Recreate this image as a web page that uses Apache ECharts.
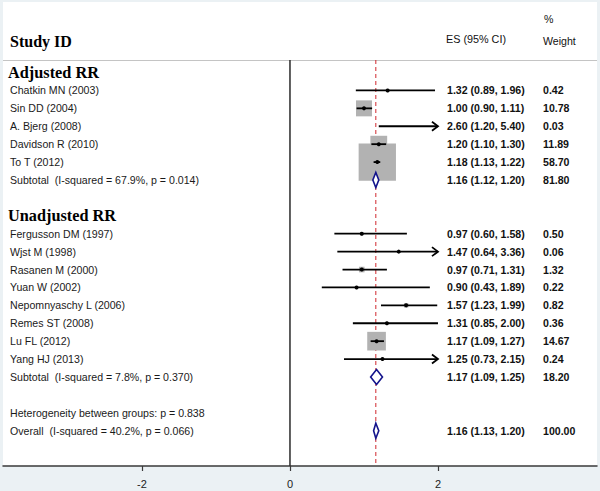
<!DOCTYPE html>
<html>
<head>
<meta charset="utf-8">
<title>Forest plot</title>
<script src="https://cdn.jsdelivr.net/npm/echarts@6/dist/echarts.min.js"></script>
<style>
  html, body { margin: 0; padding: 0; background: #ebf1f4; }
  #main { width: 600px; height: 491px; }
</style>
</head>
<body>
<div id="main"></div>
<script>
// single studies
var studyNames = ['Chatkin MN (2003)', 'Sin DD (2004)', 'A. Bjerg (2008)', 'Davidson R (2010)', 'To T (2012)',
  'Fergusson DM (1997)', 'Wjst M (1998)', 'Rasanen M (2000)', 'Yuan W (2002)', 'Nepomnyaschy L (2006)',
  'Remes ST (2008)', 'Lu FL (2012)', 'Yang HJ (2013)'];
var studyRows = [1, 2, 3, 4, 5, 9, 10, 11, 12, 13, 14, 15, 16];
var studyES = [1.32, 1.00, 2.60, 1.20, 1.18, 0.97, 1.47, 0.97, 0.90, 1.57, 1.31, 1.17, 1.25];
var studyLo = [0.89, 0.90, 1.20, 1.10, 1.13, 0.60, 0.64, 0.71, 0.43, 1.23, 0.85, 1.09, 0.73];
var studyHi = [1.96, 1.11, 5.40, 1.30, 1.22, 1.58, 3.36, 1.31, 1.89, 1.99, 2.00, 1.27, 2.15];
var studyWeight = ['0.42', '10.78', '0.03', '11.89', '58.70', '0.50', '0.06', '1.32', '0.22', '0.82', '0.36', '14.67', '0.24'];

// subtotals and overall
var poolNames = ['Subtotal  (I-squared = 67.9%, p = 0.014)', 'Subtotal  (I-squared = 7.8%, p = 0.370)',
  'Overall  (I-squared = 40.2%, p = 0.066)'];
var poolRows = [6, 17, 20];
var poolES = [1.16, 1.17, 1.16];
var poolLo = [1.12, 1.09, 1.13];
var poolHi = [1.20, 1.25, 1.20];
var poolWeight = ['81.80', '18.20', '100.00'];

// group headings
var groupNames = ['Adjusted RR', 'Unadjusted RR'];
var groupRows = [0, 8];
var noteText = 'Heterogeneity between groups: p = 0.838';
var noteRow = 19;

var xTicks = [-2, 0, 2];
var overallES = 1.16;
var clipHi = 2;

var fmt = function (v) { return v.toFixed(2); };

// data for the marks
var studyData = studyRows.map(function (r, i) {
  return [r, studyES[i], studyLo[i], studyHi[i], parseFloat(studyWeight[i])];
});
var poolData = poolRows.map(function (r, i) {
  return [r, poolES[i], poolLo[i], poolHi[i]];
});

// text table rows: [row, name, es text, weight, kind]
var textRows = [];
groupRows.forEach(function (r, i) { textRows.push([r, groupNames[i], '', '', 'group']); });
studyRows.forEach(function (r, i) {
  textRows.push([r, studyNames[i], fmt(studyES[i]) + ' (' + fmt(studyLo[i]) + ', ' + fmt(studyHi[i]) + ')', studyWeight[i], 'row']);
});
poolRows.forEach(function (r, i) {
  textRows.push([r, poolNames[i], fmt(poolES[i]) + ' (' + fmt(poolLo[i]) + ', ' + fmt(poolHi[i]) + ')', poolWeight[i], 'row']);
});
textRows.push([noteRow, noteText, '', '', 'row']);

var chart = echarts.init(document.getElementById('main'), null, { renderer: 'svg' });

var yMin = -0.7, yMax = 21.97;

// gray weight boxes (drawn first so every CI line sits on top)
function renderBox(params, api) {
  var row = api.value(0), es = api.value(1), w = api.value(4);
  if (es > clipHi) return null;
  var pEs = api.coord([es, row]);
  var side = 4.87 * Math.sqrt(w);
  return { type: 'rect', shape: { x: pEs[0] - side / 2, y: pEs[1] - side / 2, width: side, height: side },
    style: { fill: '#b2b2b2' } };
}

// CI line, arrow and point estimate
function renderStudy(params, api) {
  var row = api.value(0), es = api.value(1), lo = api.value(2), hi = api.value(3);
  var hiC = Math.min(hi, clipHi);
  var pLo = api.coord([lo, row]);
  var pHi = api.coord([hiC, row]);
  var pEs = api.coord([es, row]);
  var kids = [];
  kids.push({ type: 'line', shape: { x1: pLo[0], y1: pLo[1], x2: pHi[0], y2: pHi[1] },
    style: { stroke: '#000', lineWidth: 1.8 } });
  if (hi > clipHi) {
    kids.push({ type: 'polyline', shape: { points: [[pHi[0] - 6, pHi[1] - 4.5], [pHi[0], pHi[1]], [pHi[0] - 6, pHi[1] + 4.5]] },
      style: { stroke: '#000', lineWidth: 1.8, fill: null } });
  }
  if (es <= clipHi) {
    kids.push({ type: 'circle', shape: { cx: pEs[0], cy: pEs[1], r: 2 }, style: { fill: '#000' } });
  }
  return { type: 'group', children: kids };
}

function renderPool(params, api) {
  var row = api.value(0);
  var a = api.coord([api.value(2), row]);
  var m = api.coord([api.value(1), row]);
  var b = api.coord([api.value(3), row]);
  var h = 7.5;
  return {
    type: 'polygon',
    shape: { points: [[a[0], a[1]], [m[0], m[1] - h], [b[0], b[1]], [m[0], m[1] + h]] },
    style: { fill: '#fff', stroke: '#14148c', lineWidth: 1.6 }
  };
}

function renderRef(params, api) {
  var x = api.value(0);
  var top = api.coord([x, yMin]);
  var bot = api.coord([x, yMax]);
  var dashed = params.dataIndex === 1;
  return {
    type: 'line',
    shape: { x1: top[0], y1: top[1], x2: bot[0], y2: bot[1] },
    style: dashed ? { stroke: '#d0282e', lineWidth: 1, lineDash: [4, 3] } : { stroke: '#2a2a2a', lineWidth: 1.5 }
  };
}

function renderText(params, api) {
  var item = textRows[params.dataIndex];
  var p = api.coord([0, item[0]]);
  var y = p[1];
  if (item[4] === 'group') {
    return { type: 'text', x: 8, y: y, style: { text: item[1], fill: '#000', font: 'bold 16.3px "Liberation Serif", serif',
      verticalAlign: 'middle' } };
  }
  return { type: 'group', children: [
    { type: 'text', x: 10, y: y, style: { text: item[1], fill: '#1a1a1a', font: '10.6px "Liberation Sans", Arial, sans-serif', verticalAlign: 'middle' } },
    { type: 'text', x: 447, y: y, style: { text: item[2], fill: '#111', font: 'bold 10.6px "Liberation Sans", Arial, sans-serif', verticalAlign: 'middle' } },
    { type: 'text', x: 543, y: y, style: { text: item[3], fill: '#111', font: 'bold 10.6px "Liberation Sans", Arial, sans-serif', verticalAlign: 'middle' } }
  ] };
}

var option = {
  backgroundColor: '#ebf1f4',
  animation: false,
  grid: { left: 3, right: 3, top: 60, bottom: 25 },
  xAxis: {
    type: 'value',
    position: 'bottom',
    min: -3.878,
    max: 4.149,
    axisLine: { show: true, onZero: false, lineStyle: { color: '#3a3a3a', width: 1.5 } },
    axisTick: { show: true, customValues: xTicks, length: 5, lineStyle: { color: '#3a3a3a', width: 1.2 } },
    axisLabel: { customValues: xTicks, color: '#222', fontSize: 11, margin: 12,
      fontFamily: '"Liberation Sans", Arial, sans-serif' },
    splitLine: { show: false }
  },
  yAxis: {
    type: 'value',
    inverse: true,
    min: yMin,
    max: yMax,
    show: false
  },
  graphic: [
    { type: 'rect', z: -10, shape: { x: 3, y: 2, width: 594, height: 464 }, style: { fill: '#fff' } },
    { type: 'line', z: 1, shape: { x1: 3, y1: 60.5, x2: 597, y2: 60.5 }, style: { stroke: '#c4c4c4', lineWidth: 1 } },
    { type: 'text', x: 10, y: 41, style: { text: 'Study ID', fill: '#000', font: 'bold 16px "Liberation Serif", serif', verticalAlign: 'middle' } },
    { type: 'text', x: 446, y: 39, style: { text: 'ES (95% CI)', fill: '#111', font: '10.8px "Liberation Sans", Arial, sans-serif', verticalAlign: 'middle' } },
    { type: 'text', x: 544, y: 19, style: { text: '%', fill: '#111', font: '10.6px "Liberation Sans", Arial, sans-serif', verticalAlign: 'middle' } },
    { type: 'text', x: 543, y: 41, style: { text: 'Weight', fill: '#111', font: '10.6px "Liberation Sans", Arial, sans-serif', verticalAlign: 'middle' } }
  ],
  series: [
    { type: 'custom', name: 'ref', z: 1, renderItem: renderRef, data: [[0], [overallES]], silent: true },
    { type: 'custom', name: 'boxes', z: 2, renderItem: renderBox, data: studyData },
    { type: 'custom', name: 'studies', z: 3, renderItem: renderStudy, data: studyData },
    { type: 'custom', name: 'pooled', z: 4, renderItem: renderPool, data: poolData },
    { type: 'custom', name: 'text', z: 5, renderItem: renderText, data: textRows.map(function (t) { return [t[0]]; }) }
  ]
};
option && chart.setOption(option);
</script>
</body>
</html>
